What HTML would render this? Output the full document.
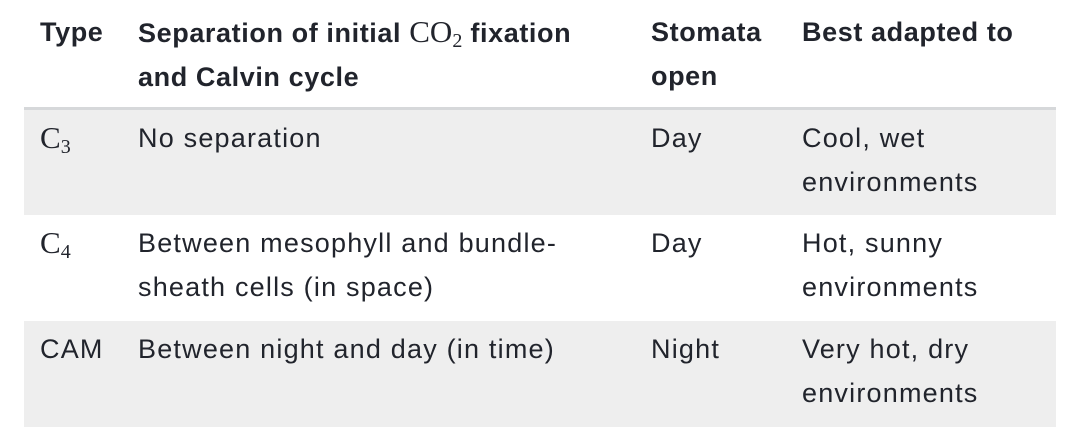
<!DOCTYPE html>
<html><head><meta charset="utf-8"><style>
html,body{margin:0;padding:0;background:#fff;}
body{width:1082px;height:448px;position:relative;overflow:hidden;font-family:"Liberation Sans",sans-serif;color:#21242c;font-size:27px;letter-spacing:1.2px;}
table{position:absolute;left:24px;top:10px;width:1032px;border-collapse:collapse;}
td,th{vertical-align:top;text-align:left;padding:0;line-height:44px;white-space:nowrap;}
th{font-weight:bold;padding-bottom:8px;letter-spacing:0.6px;}
thead tr{border-bottom:3px solid #d6d8da;}
tbody tr{height:106px;}
tbody tr.g{background:#eeeeee;}
tbody td{padding-top:6px;}
.c1{padding-left:16px;width:98px;}
.c2{width:513px;}
.c3{width:151px;}
.m{font-family:"Liberation Serif",serif;font-size:31px;letter-spacing:0;}
.m sub{font-size:20px;vertical-align:-5px;line-height:0;}
</style></head><body>
<table>
<thead><tr>
<th class="c1">Type</th>
<th class="c2">Separation of initial <span class="m" style="font-weight:normal">CO<sub>2</sub></span> fixation<br>and Calvin cycle</th>
<th class="c3">Stomata<br>open</th>
<th>Best adapted to</th>
</tr></thead>
<tbody>
<tr class="g">
<td class="c1"><span class="m">C<sub>3</sub></span></td>
<td class="c2">No separation</td>
<td class="c3">Day</td>
<td>Cool, wet<br>environments</td>
</tr>
<tr>
<td class="c1"><span class="m">C<sub>4</sub></span></td>
<td class="c2">Between mesophyll and bundle-<br>sheath cells (in space)</td>
<td class="c3">Day</td>
<td>Hot, sunny<br>environments</td>
</tr>
<tr class="g">
<td class="c1">CAM</td>
<td class="c2">Between night and day (in time)</td>
<td class="c3">Night</td>
<td>Very hot, dry<br>environments</td>
</tr>
</tbody>
</table>
</body></html>
